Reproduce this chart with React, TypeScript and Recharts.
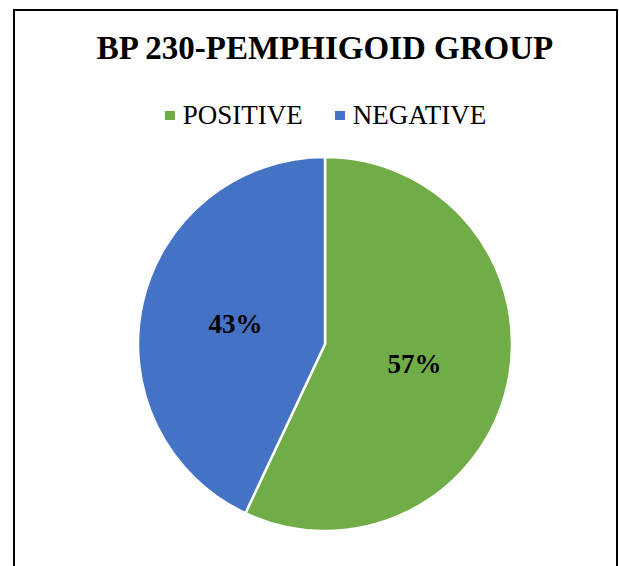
import React from "react";
import { PieChart, Pie, Cell, Legend } from "recharts";

const categories = ["POSITIVE", "NEGATIVE"];
const values = [57, 43];
const colors = ["#70AD47", "#4472C4"];
const title = "BP 230-PEMPHIGOID GROUP";

const data = categories.map((name, i) => ({ name, value: values[i] }));

const RAD = Math.PI / 180;

const renderLabel = (props: any) => {
  const { cx, cy, midAngle, outerRadius, percent } = props;
  const r = outerRadius * 0.49;
  const x = cx + r * Math.cos(-midAngle * RAD);
  const y = cy + r * Math.sin(-midAngle * RAD);
  return (
    <text
      x={x}
      y={y}
      fill="#000"
      textAnchor="middle"
      dominantBaseline="central"
      style={{ fontFamily: "'Liberation Serif', 'Times New Roman', serif", fontWeight: 700, fontSize: 27 }}
    >
      {`${Math.round(percent * 100)}%`}
    </text>
  );
};

const renderLegend = (props: any) => {
  const payload = [...(props.payload || [])].sort(
    (a: any, b: any) => categories.indexOf(a.value) - categories.indexOf(b.value)
  );
  return (
    <div
      style={{
        display: "flex",
        justifyContent: "center",
        alignItems: "center",
        gap: 32,
        paddingLeft: 32,
        fontFamily: "'Liberation Serif', 'Times New Roman', serif",
        fontSize: 27,
        color: "#000",
        lineHeight: "30px",
      }}
    >
      {payload.map((p: any, i: number) => (
        <div key={i} style={{ display: "flex", alignItems: "center" }}>
          <span style={{ display: "inline-block", width: 10, height: 9, background: p.color, marginRight: 8 }} />
          <span>{p.value}</span>
        </div>
      ))}
    </div>
  );
};

export default function App() {
  return (
    <div style={{ position: "fixed", left: 0, top: 0, width: 619, height: 566, overflow: "hidden", background: "#fff" }}>
      <div
        style={{
          position: "absolute",
          left: 13,
          top: 9,
          width: 605,
          height: 620,
          border: "2px solid #000",
          boxSizing: "border-box",
        }}
      />
      <svg style={{ position: "absolute", left: 0, top: 0 }} width={619} height={100}>
        <text
          x={325}
          y={59}
          textAnchor="middle"
          style={{ fontFamily: "'Liberation Serif', 'Times New Roman', serif", fontWeight: 700, fontSize: 33 }}
          fill="#000"
        >
          {title}
        </text>
      </svg>
      <div style={{ position: "absolute", left: 0, top: 0 }}>
        <PieChart width={619} height={566}>
          <Legend
            content={renderLegend}
            verticalAlign="top"
            wrapperStyle={{ position: "absolute", top: 100, left: 0, width: 619 }}
          />
          <Pie
            data={data}
            dataKey="value"
            nameKey="name"
            cx={320}
            cy={309}
            outerRadius={187}
            startAngle={90}
            endAngle={-270}
            stroke="#fff"
            strokeWidth={2.5}
            label={renderLabel}
            labelLine={false}
            isAnimationActive={false}
          >
            {data.map((d, i) => (
              <Cell key={d.name} fill={colors[i]} />
            ))}
          </Pie>
        </PieChart>
      </div>
    </div>
  );
}
